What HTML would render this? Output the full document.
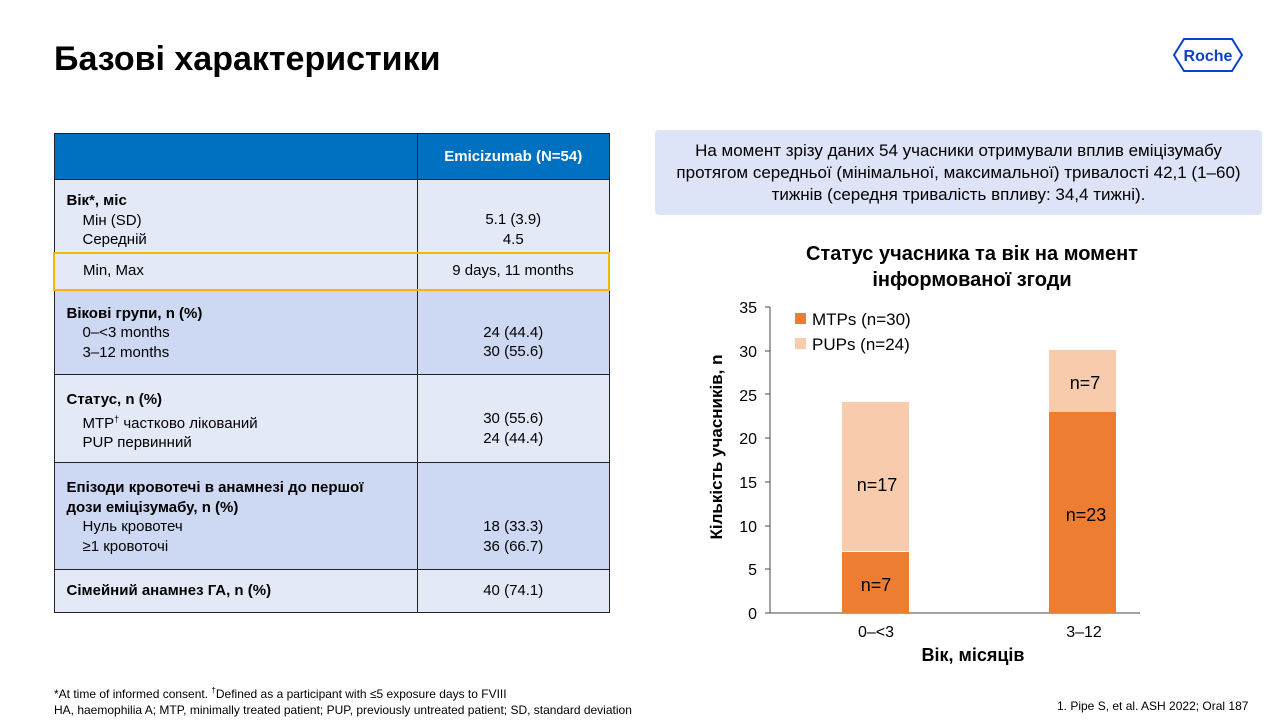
<!DOCTYPE html><html><head><meta charset="utf-8"><style>
body{margin:0;width:1280px;height:720px;background:#fff;font-family:"Liberation Sans",Arial,sans-serif;position:relative;overflow:hidden;color:#000}
.a{position:absolute}
table{border-collapse:collapse;position:absolute;left:53px;top:133px;width:557px;font-size:15px}
td{border:1.5px solid #222;padding:0 12px;vertical-align:top;line-height:19.5px}
td.v{text-align:center;width:166px}
.i{padding-left:16px}
</style></head><body>
<div class="a" style="left:54px;top:40px;font-size:34px;font-weight:bold">Базові характеристики</div>
<svg class="a" style="left:1172px;top:37px" width="72" height="36"><polygon points="12,2 60,2 70,18 60,34 12,34 2,18" fill="none" stroke="#0b41cd" stroke-width="2"/><text x="36" y="24" text-anchor="middle" font-size="16" font-weight="bold" fill="#0b41cd" font-family="Liberation Sans Narrow,Liberation Sans,sans-serif">Roche</text></svg>
<table>
<tr style="background:#0070c0;height:46px"><td style="border-right:1.5px solid #222"></td><td class="v" style="color:#fff;font-weight:bold;vertical-align:middle">Emicizumab (N=54)</td></tr>
<tr style="background:#e4e9f8;height:73px"><td style="padding-top:11px"><b>Вік*, міс</b><div class="i">Мін (SD)<br>Середній</div></td><td class="v" style="padding-top:30px">5.1 (3.9)<br>4.5</td></tr>
<tr style="background:#e4e9f8;height:37px"><td class="i" style="padding-left:28px;vertical-align:middle;border:2.5px solid #f5b800;border-right:none">Min, Max</td><td class="v" style="vertical-align:middle;border:2.5px solid #f5b800;border-left:1.5px solid #222">9 days, 11 months</td></tr>
<tr style="background:#cdd8f2;height:85px"><td style="padding-top:13px"><b>Вікові групи, n (%)</b><div class="i">0–&lt;3 months<br>3–12 months</div></td><td class="v" style="padding-top:32px">24 (44.4)<br>30 (55.6)</td></tr>
<tr style="background:#e4e9f8;height:88px"><td style="padding-top:15px"><b>Статус, n (%)</b><div class="i">MTP<sup style="font-size:9px">†</sup> частково лікований<br>PUP первинний</div></td><td class="v" style="padding-top:34px">30 (55.6)<br>24 (44.4)</td></tr>
<tr style="background:#cdd8f2;height:107px"><td style="padding-top:15px;padding-right:20px"><b>Епізоди кровотечі в анамнезі до першої дози еміцізумабу, n (%)</b><div class="i">Нуль кровотеч<br>≥1 кровоточі</div></td><td class="v" style="padding-top:54px">18 (33.3)<br>36 (66.7)</td></tr>
<tr style="background:#e4e9f8;height:43px"><td style="vertical-align:middle"><b>Сімейний анамнез ГА, n (%)</b></td><td class="v" style="vertical-align:middle">40 (74.1)</td></tr>
</table>
<div class="a" style="left:655px;top:130px;width:607px;height:85px;background:#dde4f7;border-radius:4px;font-size:17px;line-height:22px;text-align:center;display:flex;align-items:center;justify-content:center;box-sizing:border-box;padding:0 10px">На момент зрізу даних 54 учасники отримували вплив еміцізумабу протягом середньої (мінімальної, максимальної) тривалості 42,1 (1–60) тижнів (середня тривалість впливу: 34,4 тижні).</div>
<div class="a" style="left:722px;top:241px;width:500px;text-align:center;font-size:20px;font-weight:bold;line-height:26px">Статус учасника та вік на момент<br>інформованої згоди</div>
<svg class="a" style="left:0;top:0" width="1280" height="720" font-family="Liberation Sans,sans-serif">
<g font-size="16" text-anchor="end" fill="#000">
<text x="757" y="619">0</text><text x="757" y="575">5</text><text x="757" y="532">10</text><text x="757" y="488">15</text><text x="757" y="444">20</text><text x="757" y="401">25</text><text x="757" y="357">30</text><text x="757" y="313">35</text></g>
<g stroke="#444" stroke-width="1"><line x1="770" y1="307" x2="770" y2="613"/><line x1="765" y1="613" x2="1140" y2="613"/>
<line x1="765" y1="307" x2="770" y2="307"/><line x1="765" y1="351" x2="770" y2="351"/><line x1="765" y1="394" x2="770" y2="394"/><line x1="765" y1="438" x2="770" y2="438"/><line x1="765" y1="482" x2="770" y2="482"/><line x1="765" y1="526" x2="770" y2="526"/><line x1="765" y1="569" x2="770" y2="569"/></g>
<rect x="842" y="402" width="67" height="149" fill="#f8cbad"/><rect x="842" y="552" width="67" height="61" fill="#ed7d31"/>
<rect x="1049" y="350" width="67" height="62" fill="#f8cbad"/><rect x="1049" y="412" width="67" height="201" fill="#ed7d31"/>
<g font-size="18" text-anchor="middle"><text x="877" y="491">n=17</text><text x="876" y="591">n=7</text><text x="1085" y="389">n=7</text><text x="1086" y="521">n=23</text></g>
<rect x="795" y="313" width="11" height="11" fill="#ed7d31"/><rect x="795" y="338" width="11" height="11" fill="#f8cbad"/>
<g font-size="17"><text x="812" y="325">MTPs (n=30)</text><text x="812" y="350">PUPs (n=24)</text></g>
<g font-size="16" text-anchor="middle"><text x="876" y="637">0–&lt;3</text><text x="1084" y="637">3–12</text></g>
<text x="973" y="661" font-size="18" font-weight="bold" text-anchor="middle">Вік, місяців</text>
<text transform="translate(722,447) rotate(-90)" font-size="17" font-weight="bold" text-anchor="middle">Кількість учасників, n</text>
</svg>
<div class="a" style="left:54px;top:683px;font-size:12px;line-height:16px">*At time of informed consent. <sup style="font-size:8px">†</sup>Defined as a participant with ≤5 exposure days to FVIII<br>HA, haemophilia A; MTP, minimally treated patient; PUP, previously untreated patient; SD, standard deviation</div>
<div class="a" style="left:1057px;top:699px;font-size:12px">1. Pipe S, et al. ASH 2022; Oral 187</div>
</body></html>
